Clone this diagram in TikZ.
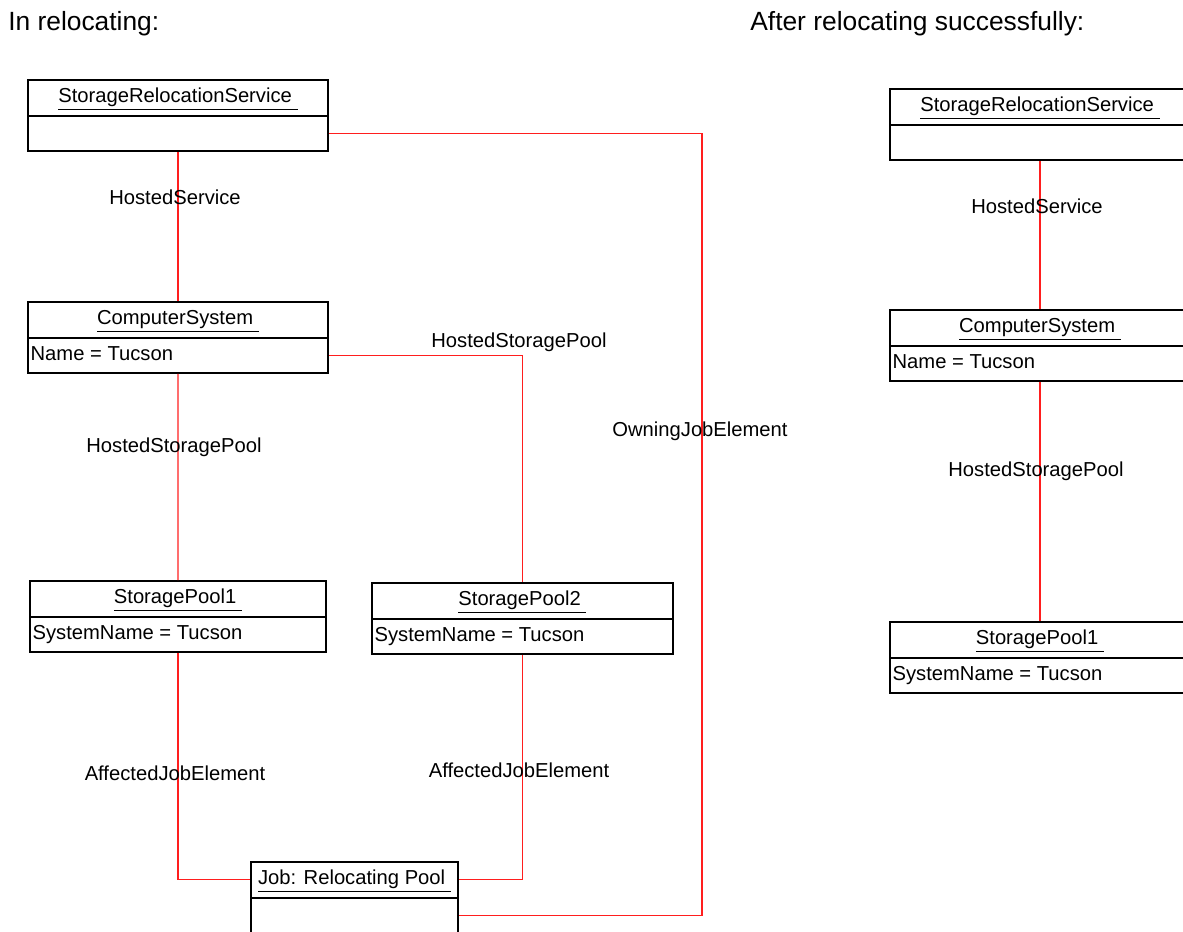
\documentclass[tikz,border=0pt]{standalone}
\usepackage{fontspec}
\setmainfont{Liberation Sans}
\usetikzlibrary{shapes.multipart, calc}
\definecolor{LR}{RGB}{255,30,30}

\begin{document}
\begin{tikzpicture}[x=0.02cm, y=-0.02cm,
  cls/.style={draw=black, line width=1.1pt, rectangle split, rectangle split parts=2,
              rectangle split part align={center,left}, anchor=north west,
              minimum width=#1, inner xsep=1.5pt, inner ysep=2.5pt,
              font=\fontsize{11.5}{14}\selectfont},
  link/.style={draw=LR, line width=0.7pt},
  lab/.style={font=\fontsize{11.5}{14}\selectfont, inner sep=0pt},
  head/.style={font=\fontsize{15}{18}\selectfont, anchor=west, inner sep=0pt}
]
\useasboundingbox (0,0) rectangle (1183,932);

\node[head] (tl) at (8,24)   {In relocating:};
\node[head] (tr) at (750,24) {After relocating successfully:};

% in relocating
\node[cls=6cm]    (srs) at (27,79)   {\strut\underline{StorageRelocationService\ }\nodepart{two}\strut};
\node[cls=6cm]    (cs)  at (27,301)  {\strut\underline{ComputerSystem\ }\nodepart{two}\strut Name = Tucson};
\node[cls=5.92cm] (sp1) at (29,580)  {\strut\underline{StoragePool1\ }\nodepart{two}\strut SystemName = Tucson};
\node[cls=6.02cm] (sp2) at (371,582) {\strut\underline{StoragePool2\ }\nodepart{two}\strut SystemName = Tucson};
\node[cls=4.14cm] (job) at (250,861) {\strut\underline{Job: Relocating Pool\ }\nodepart{two}\strut};

\coordinate (srsE) at ($(srs.text split east)!.5!(srs.south east)$);
\coordinate (csE)  at ($(cs.text split east)!.5!(cs.south east)$);
\coordinate (jobW) at ($(job.north west)!.5!(job.text split west)$);
\coordinate (jobN) at ($(job.north east)!.5!(job.text split east)$);
\coordinate (jobE) at ($(job.text split east)!.5!(job.south east)$);
\coordinate (own)  at (702,0);

\draw[link] (srs.south) -- (cs.north);
\draw[link] (cs.south) -- (sp1.north);
\draw[link] (csE) -| (sp2.north);
\draw[link] (srsE) -- (srsE -| own) -- (own |- jobE) -- (jobE);
\draw[link] (sp1.south) |- (jobW);
\draw[link] (sp2.south) |- (jobN);

\node[lab] (hs)   at (175,197) {HostedService};
\node[lab] (hsp1) at (174,447) {HostedStoragePool};
\node[lab] (hsp2) at (519,342) {HostedStoragePool};
\node[lab] (oje)  at (700,431) {OwningJobElement};
\node[lab] (aje1) at (175,773) {AffectedJobElement};
\node[lab] (aje2) at (519,770) {AffectedJobElement};

% after relocating
\node[cls=6cm] (srsB) at (889,88)  {\strut\underline{StorageRelocationService\ }\nodepart{two}\strut};
\node[cls=6cm] (csB)  at (889,309) {\strut\underline{ComputerSystem\ }\nodepart{two}\strut Name = Tucson};
\node[cls=6cm] (spB)  at (889,621) {\strut\underline{StoragePool1\ }\nodepart{two}\strut SystemName = Tucson};

\draw[link] (srsB.south) -- (csB.north);
\draw[link] (csB.south) -- (spB.north);

\node[lab] (hsB)  at (1037,206) {HostedService};
\node[lab] (hspB) at (1036,471) {HostedStoragePool};
\end{tikzpicture}
\end{document}
